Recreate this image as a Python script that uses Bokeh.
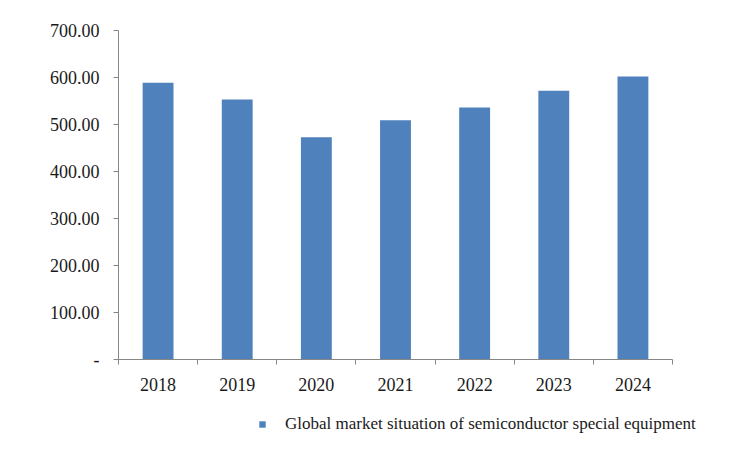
from bokeh.plotting import figure
from bokeh.models import Range1d, FixedTicker, Legend, LegendItem, ColumnDataSource
from bokeh.layouts import column
from bokeh.embed import file_html
from bokeh.resources import INLINE

years = ["2018", "2019", "2020", "2021", "2022", "2023", "2024"]
values = [589, 553, 473, 509, 536, 572, 602]
y_ticks = [0, 100, 200, 300, 400, 500, 600, 700]
series_name = "Global market situation of semiconductor special equipment"

FONT = "Liberation Serif"
TXT = "#1a1a1a"
AX = "#868686"
BAR = "#4F81BD"

n = len(years)
xpos = [i + 0.5 for i in range(n)]
src = ColumnDataSource(dict(x=xpos, top=values, year=years))

# frame extends to the right edge so the legend strip below is not clipped;
# the axis line itself is bounded to the categories
FW_CAT = 554      # px used by the categories
FW = 616          # full frame width
p = figure(frame_width=FW, frame_height=329, output_backend="svg", toolbar_location=None,
           x_range=Range1d(0, n * FW / FW_CAT), y_range=Range1d(0, 700),
           min_border_left=118, min_border_right=0, min_border_top=30,
           min_border_bottom=0)
p.outline_line_color = None
p.xgrid.visible = False
p.ygrid.visible = False

r = p.vbar(x="x", top="top", width=0.39, source=src, fill_color=BAR,
           line_color=None)

# y axis
ya = p.yaxis[0]
ya.ticker = FixedTicker(ticks=y_ticks, minor_ticks=[])
ya.major_label_overrides = {t: ("-" if t == 0 else f"{t:.2f}") for t in y_ticks}
ya.axis_line_color = AX
ya.major_tick_line_color = AX
ya.major_tick_in = 0
ya.major_tick_out = 5
ya.minor_tick_line_color = None
ya.major_label_text_font = FONT
ya.major_label_text_font_size = "18px"
ya.major_label_text_color = TXT
ya.major_label_standoff = 14

# x axis: labels at centers, ticks at category boundaries
xa = p.xaxis[0]
xa.bounds = (0, n)
xa.ticker = FixedTicker(ticks=xpos, minor_ticks=list(range(n + 1)))
xa.major_label_overrides = {x: y for x, y in zip(xpos, years)}
xa.axis_line_color = AX
xa.major_tick_line_color = None
xa.minor_tick_line_color = AX
xa.minor_tick_in = 0
xa.minor_tick_out = 5
xa.major_label_text_font = FONT
xa.major_label_text_font_size = "18px"
xa.major_label_text_color = TXT
xa.major_label_standoff = 12

# legend strip below the chart (same series, drawn out of view there)
lf = figure(frame_width=FW, frame_height=44, output_backend="svg", toolbar_location=None,
            x_range=Range1d(0, n * FW / FW_CAT), y_range=Range1d(10000, 10001),
            min_border_left=118, min_border_right=0, min_border_top=0,
            min_border_bottom=0)
lf.axis.visible = False
lf.xgrid.visible = False
lf.ygrid.visible = False
lf.outline_line_color = None
lr = lf.vbar(x="x", top="top", width=0.39, source=src, fill_color=BAR, line_color=None)

legend = Legend(items=[LegendItem(label=series_name, renderers=[lr])],
                location=(140, 3), orientation="horizontal",
                label_text_font=FONT, label_text_font_size="17px",
                label_text_color=TXT, glyph_width=8, glyph_height=8,
                label_standoff=19, border_line_color=None,
                background_fill_alpha=0, margin=0, padding=4)
lf.add_layout(legend, "center")

layout = column(p, lf, spacing=0)
open("out.html", "w").write(file_html(layout, INLINE))
